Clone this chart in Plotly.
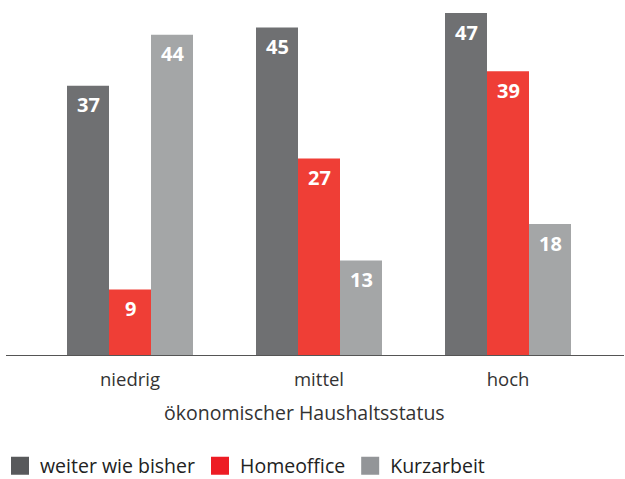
import plotly.graph_objects as go

categories = ["niedrig", "mittel", "hoch"]
series_names = ["weiter wie bisher", "Homeoffice", "Kurzarbeit"]
weiter = [37, 45, 47]
homeoffice = [9, 27, 39]
kurzarbeit = [44, 13, 18]
values = [weiter, homeoffice, kurzarbeit]
bar_colors = ["#6f7072", "#ef3e36", "#a4a6a7"]
legend_colors = ["#58595b", "#ed1c24", "#939598"]
x_title = "ökonomischer Haushaltsstatus"

FONT = "Open Sans"
W, H = 625, 479
l, r, t, b = 6, 1, 5, 124
pw = W - l - r
ph = H - t - b
base_y = H - b

fig = go.Figure()
for name, vals, col in zip(series_names, values, bar_colors):
    fig.add_trace(go.Bar(
        x=categories, y=vals, name=name, marker=dict(color=col, line=dict(width=0)),
        showlegend=False, textposition="none", hoverinfo="skip"))
for name, col in zip(series_names, legend_colors):
    fig.add_trace(go.Scatter(
        x=[None], y=[None], mode="markers", name=name,
        marker=dict(symbol="square", size=16, color=col, line=dict(color=col, width=2))))

# value labels inside bars near the top
offsets = [-42, 0, 42]
for vals, off in zip(values, offsets):
    for c, v in zip(categories, vals):
        fig.add_annotation(x=c, y=v, xref="x", yref="y", text=f"<b>{v}</b>",
                           showarrow=False, xshift=off, yshift=-19,
                           font=dict(family=FONT, size=20, color="white"))

fig.add_annotation(x=(304.5 - l) / pw, y=(base_y - 412) / ph, xref="paper", yref="paper",
                   yanchor="middle", text=x_title, showarrow=False,
                   font=dict(family=FONT, size=19.5, color="#333333"))

x0 = (l - 130) / 189
x1 = x0 + pw / 189
ymax = ph / (342 / 47)

fig.update_layout(
    width=W, height=H, margin=dict(l=l, r=r, t=t, b=b, autoexpand=False),
    paper_bgcolor="white", plot_bgcolor="white",
    barmode="group", bargap=0.3333, bargroupgap=0,
    font=dict(family=FONT, size=17, color="#333333"),
    xaxis=dict(range=[x0, x1], showgrid=False, zeroline=False, showline=True,
               linecolor="#555555", linewidth=1, ticks="", automargin=False,
               tickfont=dict(size=18.5, color="#333333"), ticklabelstandoff=8),
    yaxis=dict(range=[0, ymax], visible=False, showgrid=False, zeroline=False),
    legend=dict(orientation="h", xref="container", yref="container",
                x=0, xanchor="left", y=1 - 466 / H, yanchor="middle",
                font=dict(family=FONT, size=19.5, color="#222222"),
                itemclick=False, itemdoubleclick=False),
)
fig.write_html("out.html", config={"displayModeBar": False},
               post_script="document.body.style.margin='0';document.body.style.padding='0';")
